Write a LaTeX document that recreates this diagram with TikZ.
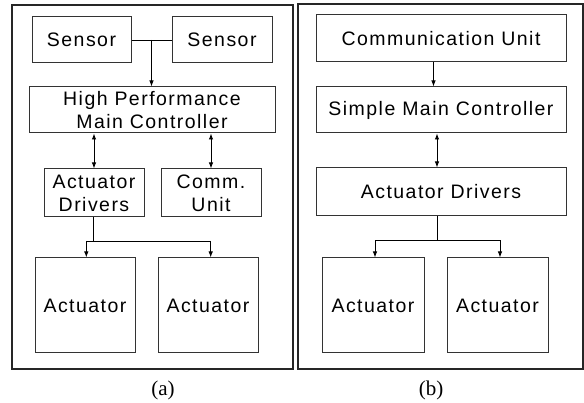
\documentclass[tikz,border=0pt]{standalone}
\usepackage{fontspec}
\setmainfont{Liberation Sans}
\newfontfamily\capfont{Liberation Serif}
\newfontfamily\boxfont{Liberation Sans}[LetterSpace=7.5]
\usetikzlibrary{arrows.meta,calc}
\begin{document}
\begin{tikzpicture}[x=1pt,y=-1pt,
  panelframe/.style={draw=black!85,line width=1.8pt,inner sep=0pt,fill=none},
  blk/.style={draw=black!80,line width=1pt,inner sep=0pt,align=center,
    font=\boxfont\fontsize{19.5}{23}\selectfont},
  conn/.style={draw=black,line width=0.9pt},
  arr/.style={conn,-{Latex[length=6pt,width=4.5pt]}},
  darr/.style={conn,{Latex[length=6pt,width=4.5pt]}-{Latex[length=6pt,width=4.5pt]}},
  captxt/.style={font=\capfont\fontsize{21}{24}\selectfont,inner sep=0pt}]
\useasboundingbox (0,0) rectangle (584,403);
% panel (a)
\node[panelframe,minimum width=281pt,minimum height=364pt] (frameA) at (152.5,187) {};
\node[blk,minimum width=99pt,minimum height=46pt] (s1) at (81.5,40) {Sensor};
\node[blk,minimum width=100pt,minimum height=46pt] (s2) at (222,40) {Sensor};
\node[blk,minimum width=246pt,minimum height=46pt] (hp) at (152,110) {High Performance\\Main Controller};
\node[blk,minimum width=100pt,minimum height=48pt] (ad) at (94,193) {Actuator\\Drivers};
\node[blk,minimum width=100pt,minimum height=48pt] (cu) at (211,193) {Comm.\\Unit};
\node[blk,minimum width=100pt,minimum height=95pt] (a1) at (85,305.5) {Actuator};
\node[blk,minimum width=100pt,minimum height=95pt] (a2) at (208,305.5) {Actuator};
\node[captxt] (capA) at (163,390) {(a)};
% panel (a) connectors
\draw[conn] (s1.east) -- (s2.west);
\coordinate (sj) at ($(s1.east)!0.5!(s2.west)$);
\draw[arr] (sj) -- (sj |- hp.north);
\draw[darr] (hp.south -| ad.north) -- (ad.north);
\draw[darr] (hp.south -| cu.north) -- (cu.north);
\coordinate (aj) at ([xshift=-0.7pt,yshift=-23.5pt]ad.south);
\coordinate (aL) at ([xshift=1.3pt]a1.north |- aj);
\coordinate (aR) at ([xshift=2.7pt]a2.north |- aj);
\draw[conn] ([xshift=-0.7pt]ad.south) -- (aj);
\draw[arr] (aL) -- (aL |- a1.north);
\draw[arr] (aR) -- (aR |- a2.north);
\draw[conn] (aL) -- (aR);
% panel (b)
\node[panelframe,minimum width=285pt,minimum height=365pt] (frameB) at (440.5,186.5) {};
\node[blk,minimum width=250pt,minimum height=47pt] (cub) at (441,38.5) {Communication Unit};
\node[blk,minimum width=250pt,minimum height=46pt] (smc) at (441,110) {Simple Main Controller};
\node[blk,minimum width=250pt,minimum height=48pt] (adb) at (441,192) {Actuator Drivers};
\node[blk,minimum width=102pt,minimum height=95pt] (b1) at (373,305.5) {Actuator};
\node[blk,minimum width=101pt,minimum height=95pt] (b2) at (497.5,305.5) {Actuator};
\node[captxt] (capB) at (431,390) {(b)};
% panel (b) connectors
\draw[arr] ([xshift=-7.5pt]cub.south) -- ([xshift=-7.5pt]smc.north);
\draw[darr] ([xshift=-4pt]smc.south) -- ([xshift=-4pt]adb.north);
\coordinate (bj) at ([xshift=-4pt,yshift=-24pt]adb.south);
\coordinate (bL) at ([xshift=2pt]b1.north |- bj);
\coordinate (bR) at ([xshift=2.5pt]b2.north |- bj);
\draw[conn] ([xshift=-4pt]adb.south) -- (bj);
\draw[arr] (bL) -- (bL |- b1.north);
\draw[arr] (bR) -- (bR |- b2.north);
\draw[conn] (bL) -- (bR);
\end{tikzpicture}
\end{document}
